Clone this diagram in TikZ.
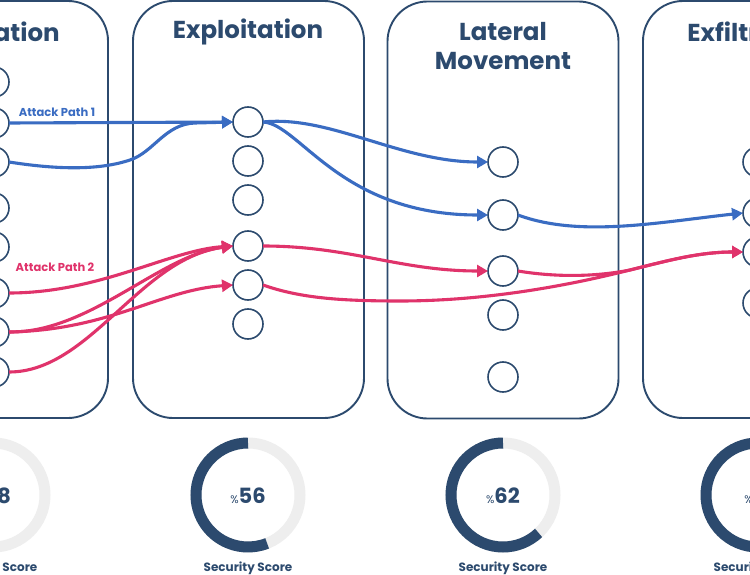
\documentclass[tikz,border=0pt]{standalone}
\usepackage{fontspec}
\setmainfont{Poppins}
\usetikzlibrary{arrows.meta}
\definecolor{navy}{HTML}{2C4A6E}
\definecolor{pathblue}{HTML}{3A6CC2}
\definecolor{pathred}{HTML}{E0336B}
\definecolor{ringgrey}{HTML}{EEEEEE}
\begin{document}
\begin{tikzpicture}[x=1pt,y=-1pt,
  panel/.style={draw=navy, line width=1.9pt, rounded corners=40pt, rectangle, minimum width=231pt, minimum height=417pt, inner sep=0pt},
  stage/.style={circle, draw=navy, line width=1.6pt, minimum size=30pt, inner sep=0pt, outer sep=0pt, fill=white},
  title/.style={font=\bfseries\fontsize{24.5}{29}\selectfont, text=navy, align=center},
  bluepath/.style={draw=pathblue, line width=3.1pt, -{Triangle[length=11pt,width=12pt]}},
  redpath/.style={draw=pathred, line width=3.1pt, -{Triangle[length=11pt,width=12pt]}},
  pathlabel/.style={font=\bfseries\fontsize{11.5}{13}\selectfont},
  ring/.style={circle, draw=ringgrey, line width=11pt, minimum size=104pt, inner sep=0pt, outer sep=0pt},
  arcline/.style={draw=navy, line width=11pt},
  score/.style={text=navy},
  caption/.style={font=\bfseries\fontsize{12}{14}\selectfont, text=navy}
]
\fill[white] (0,0) rectangle (750,575);
\clip (0,0) rectangle (750,575);

% panels
\node[panel] (pA) at (-7.5,209.5) {};
\node[panel] (pB) at (248.5,209.5) {};
\node[panel] (pC) at (503,210) {};
\node[panel] (pD) at (758.5,209.5) {};

% titles
\node[title] (tA) at (-7,32) {Infiltration};
\node[title] (tB) at (248,32) {Exploitation};
\node[title] (tC) at (503,46) {Lateral\\Movement};
\node[title] (tD) at (756,32) {Exfiltration};

% stage circles
\foreach \i/\y in {1/82,2/123,3/162,4/208,5/247,6/293,7/332,8/372}
  \node[stage] (a\i) at (-6,\y) {};
\foreach \i/\y in {1/122,2/161,3/200,4/246,5/285,6/324}
  \node[stage] (b\i) at (248,\y) {};
\foreach \i/\y in {1/162,2/215,3/271,4/315,5/377}
  \node[stage] (c\i) at (503,\y) {};
\foreach \i/\y in {1/162,2/213,3/252,4/303}
  \node[stage] (d\i) at (758,\y) {};

% labels
\node[pathlabel, text=pathblue] (l1) at (57,112) {Attack Path 1};
\node[pathlabel, text=pathred] (l2) at (55,267) {Attack Path 2};

% blue attack path
\draw[bluepath] (a2.east) -- (b1.west);
\draw[bluepath] (a3.east) .. controls (60,170) and (100,170) .. (130,160)
   .. controls (154,152) and (165,124) .. (195,123) -- (b1.west);
\draw[bluepath] (b1.east) .. controls (330,115) and (400,162) .. (c1.west);
\draw[bluepath] (b1.east) .. controls (300,124) and (340,215) .. (c2.west);
\draw[bluepath] (c2.east) .. controls (580,238) and (660,222) .. (d2.west);

% red attack path
\coordinate (m) at (630,270);
\draw[redpath] (a6.east) .. controls (100,293) and (170,250) .. (b4.west);
\draw[redpath] (a7.east) .. controls (90,333) and (160,255) .. (b4.west);
\draw[redpath] (a7.east) .. controls (110,330) and (160,290) .. (b5.west);
\draw[redpath] (a8.east) .. controls (90,372) and (140,258) .. (b4.west);
\draw[redpath] (b4.east) .. controls (350,246) and (400,271) .. (c3.west);
\draw[redpath] (b5.east) .. controls (300,298) and (340,301) .. (400,301)
   .. controls (500,301) and (590,280) .. (m)
   .. controls (670,260) and (700,252) .. (d3.west);
\draw[redpath] (c3.east) .. controls (560,278) and (600,276) .. (m)
   .. controls (670,260) and (700,252) .. (d3.west);

% gauges
\foreach \n/\x/\p/\v in {1/-7/48/48,2/248/56/56,3/503/62/62,4/758/71/71}{
  \node[ring] (g\n) at (\x,495) {};
  \draw[arcline] (g\n.north) arc[start angle=90, end angle={90+3.6*\p}, radius=52pt];
  \node[score] (s\n) at (\x,496) {{\fontsize{11}{11}\selectfont\%}{\bfseries\fontsize{21}{21}\selectfont \v}};
  \node[caption] (c\n cap) at (\x,568) {Security Score};
}
\end{tikzpicture}
\end{document}
